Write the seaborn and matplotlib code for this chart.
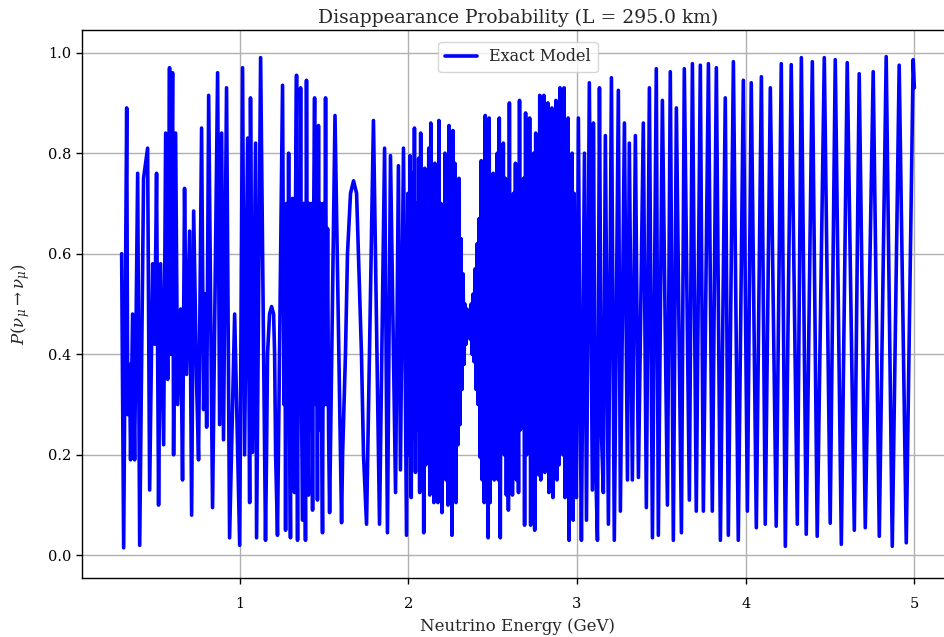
import matplotlib
matplotlib.use("Agg")
import matplotlib.pyplot as plt
import seaborn as sns
import pandas as pd

# ---- values (energy in GeV, survival probability) ----
# low-energy part, 0.30 - 1.26 GeV
energy_low = [
    0.300, 0.312, 0.330, 0.336, 0.347, 0.353, 0.365, 0.377, 0.395, 0.407,
    0.430, 0.454, 0.466, 0.484, 0.496, 0.507, 0.519, 0.531, 0.549, 0.561,
    0.573, 0.584, 0.590, 0.602, 0.608, 0.620, 0.632, 0.650, 0.661, 0.673,
    0.685, 0.703, 0.715, 0.727, 0.744, 0.756, 0.774, 0.786, 0.798, 0.804,
    0.816, 0.839, 0.869, 0.881, 0.893, 0.904, 0.922, 0.940, 0.970, 1.000,
    1.017, 1.029, 1.047, 1.059, 1.064, 1.076, 1.094, 1.100, 1.124, 1.153,
    1.159, 1.165, 1.177, 1.189, 1.201, 1.207, 1.213, 1.224, 1.254,
]
prob_low = [
    0.600, 0.015, 0.890, 0.280, 0.380, 0.190, 0.480, 0.190, 0.760, 0.020,
    0.750, 0.810, 0.130, 0.580, 0.420, 0.760, 0.100, 0.580, 0.220, 0.840,
    0.350, 0.970, 0.400, 0.960, 0.200, 0.840, 0.300, 0.490, 0.150, 0.730,
    0.360, 0.645, 0.080, 0.685, 0.350, 0.190, 0.850, 0.290, 0.520, 0.255,
    0.915, 0.095, 0.960, 0.260, 0.840, 0.230, 0.930, 0.035, 0.480, 0.020,
    0.970, 0.200, 0.830, 0.105, 0.910, 0.205, 0.820, 0.035, 0.990, 0.030,
    0.200, 0.400, 0.480, 0.495, 0.480, 0.400, 0.200, 0.040, 0.935,
]

# fast band, 1.26 - 1.99 GeV
energy_mid = [
    1.263, 1.268, 1.272, 1.278, 1.284, 1.290, 1.295, 1.301, 1.307, 1.313,
    1.319, 1.325, 1.331, 1.337, 1.340, 1.343, 1.349, 1.355, 1.361, 1.367,
    1.373, 1.379, 1.384, 1.387, 1.390, 1.396, 1.402, 1.408, 1.411, 1.414,
    1.420, 1.426, 1.432, 1.438, 1.444, 1.450, 1.455, 1.461, 1.467, 1.473,
    1.479, 1.485, 1.491, 1.497, 1.503, 1.509, 1.515, 1.521, 1.527, 1.533,
    1.565, 1.604, 1.610, 1.627, 1.639, 1.657, 1.675, 1.693, 1.704, 1.722,
    1.734, 1.752, 1.793, 1.829, 1.859, 1.876, 1.894, 1.924, 1.941, 1.953,
    1.971,
]
prob_mid = [
    0.300, 0.650, 0.050, 0.700, 0.250, 0.800, 0.300, 0.035, 0.680, 0.710,
    0.300, 0.125, 0.700, 0.955, 0.250, 0.030, 0.650, 0.300, 0.930, 0.280,
    0.070, 0.700, 0.600, 0.250, 0.030, 0.945, 0.300, 0.120, 0.700, 0.675,
    0.250, 0.700, 0.090, 0.650, 0.910, 0.300, 0.650, 0.110, 0.855, 0.250,
    0.700, 0.300, 0.045, 0.700, 0.300, 0.910, 0.300, 0.650, 0.250, 0.085,
    0.875, 0.065, 0.200, 0.400, 0.600, 0.720, 0.745, 0.720, 0.600, 0.400,
    0.200, 0.062, 0.865, 0.062, 0.810, 0.045, 0.795, 0.125, 0.775, 0.170,
    0.810,
]

# dense beating part, 1.99 - 2.99 GeV
energy_dense = [
    1.989, 1.997, 2.004, 2.010, 2.017, 2.024, 2.030, 2.036, 2.042, 2.049,
    2.055, 2.061, 2.067, 2.073, 2.079, 2.085, 2.091, 2.097, 2.103, 2.109,
    2.115, 2.121, 2.127, 2.133, 2.139, 2.145, 2.151, 2.157, 2.163, 2.169,
    2.175, 2.181, 2.187, 2.193, 2.199, 2.205, 2.211, 2.217, 2.223, 2.229,
    2.235, 2.241, 2.247, 2.253, 2.258, 2.264, 2.270, 2.276, 2.282, 2.288,
    2.294, 2.300, 2.306, 2.312, 2.318, 2.324, 2.330, 2.336, 2.342, 2.348,
    2.354, 2.360, 2.366, 2.372, 2.378, 2.384, 2.390, 2.396, 2.402, 2.408,
    2.414, 2.420, 2.426, 2.432, 2.438, 2.444, 2.450, 2.456, 2.462, 2.468,
    2.473, 2.479, 2.485, 2.491, 2.497, 2.503, 2.509, 2.515, 2.521, 2.527,
    2.533, 2.539, 2.545, 2.551, 2.557, 2.563, 2.569, 2.575, 2.581, 2.587,
    2.593, 2.599, 2.605, 2.611, 2.617, 2.623, 2.629, 2.635, 2.641, 2.647,
    2.653, 2.659, 2.665, 2.671, 2.677, 2.683, 2.689, 2.695, 2.701, 2.707,
    2.713, 2.719, 2.725, 2.731, 2.737, 2.743, 2.749, 2.755, 2.761, 2.767,
    2.773, 2.779, 2.785, 2.791, 2.797, 2.803, 2.809, 2.815, 2.821, 2.827,
    2.833, 2.839, 2.845, 2.851, 2.857, 2.863, 2.869, 2.875, 2.881, 2.887,
    2.893, 2.899, 2.905, 2.911, 2.917, 2.923, 2.929, 2.935, 2.941, 2.947,
    2.953, 2.959, 2.965, 2.971, 2.977, 2.983, 2.989,
]
prob_dense = [
    0.040, 0.720, 0.200, 0.795, 0.115, 0.760, 0.230, 0.850, 0.165, 0.700,
    0.250, 0.790, 0.125, 0.840, 0.220, 0.740, 0.045, 0.770, 0.180, 0.680,
    0.300, 0.810, 0.120, 0.860, 0.200, 0.660, 0.105, 0.780, 0.250, 0.740,
    0.105, 0.865, 0.180, 0.700, 0.085, 0.620, 0.220, 0.800, 0.150, 0.760,
    0.100, 0.855, 0.200, 0.700, 0.040, 0.845, 0.160, 0.780, 0.105, 0.720,
    0.220, 0.750, 0.260, 0.630, 0.330, 0.560, 0.380, 0.500, 0.420, 0.490,
    0.440, 0.480, 0.430, 0.500, 0.400, 0.520, 0.385, 0.570, 0.330, 0.620,
    0.300, 0.670, 0.195, 0.785, 0.150, 0.700, 0.105, 0.875, 0.200, 0.720,
    0.035, 0.870, 0.105, 0.620, 0.250, 0.760, 0.150, 0.700, 0.220, 0.800,
    0.150, 0.870, 0.035, 0.760, 0.250, 0.820, 0.200, 0.750, 0.120, 0.700,
    0.090, 0.900, 0.250, 0.650, 0.120, 0.720, 0.200, 0.780, 0.150, 0.680,
    0.125, 0.905, 0.250, 0.620, 0.300, 0.750, 0.060, 0.880, 0.200, 0.750,
    0.250, 0.870, 0.060, 0.700, 0.250, 0.800, 0.050, 0.840, 0.300, 0.720,
    0.160, 0.915, 0.150, 0.700, 0.220, 0.915, 0.165, 0.720, 0.200, 0.900,
    0.125, 0.750, 0.230, 0.890, 0.115, 0.700, 0.250, 0.905, 0.150, 0.720,
    0.180, 0.930, 0.230, 0.800, 0.200, 0.930, 0.115, 0.760, 0.250, 0.870,
    0.030, 0.780, 0.250, 0.800, 0.070, 0.720, 0.230,
]

# high-energy part, 3.00 - 5.00 GeV
energy_high = [
    2.996, 3.008, 3.020, 3.026, 3.044, 3.056, 3.073, 3.091, 3.097, 3.109,
    3.121, 3.133, 3.144, 3.156, 3.168, 3.186, 3.204, 3.221, 3.245, 3.257,
    3.281, 3.299, 3.310, 3.328, 3.346, 3.364, 3.393, 3.411, 3.429, 3.447,
    3.470, 3.482, 3.506, 3.536, 3.553, 3.571, 3.589, 3.619, 3.636, 3.666,
    3.684, 3.707, 3.731, 3.749, 3.779, 3.802, 3.826, 3.850, 3.879, 3.897,
    3.927, 3.956, 3.986, 4.010, 4.033, 4.063, 4.093, 4.116, 4.146, 4.181,
    4.211, 4.235, 4.270, 4.306, 4.330, 4.359, 4.395, 4.424, 4.466, 4.501,
    4.531, 4.567, 4.602, 4.644, 4.673, 4.709, 4.756, 4.792, 4.833, 4.869,
    4.910, 4.952, 4.993, 5.000,
]
prob_high = [
    0.115, 0.870, 0.250, 0.030, 0.800, 0.070, 0.940, 0.130, 0.860, 0.200,
    0.030, 0.930, 0.250, 0.125, 0.835, 0.062, 0.950, 0.030, 0.925, 0.088,
    0.860, 0.150, 0.820, 0.150, 0.835, 0.155, 0.860, 0.095, 0.930, 0.035,
    0.968, 0.040, 0.905, 0.100, 0.962, 0.030, 0.890, 0.045, 0.968, 0.110,
    0.978, 0.088, 0.975, 0.088, 0.978, 0.088, 0.970, 0.030, 0.910, 0.040,
    0.982, 0.030, 0.945, 0.088, 0.940, 0.055, 0.952, 0.062, 0.930, 0.058,
    0.978, 0.018, 0.976, 0.062, 0.990, 0.042, 0.982, 0.038, 0.990, 0.064,
    0.986, 0.022, 0.980, 0.050, 0.958, 0.055, 0.962, 0.038, 0.992, 0.018,
    0.975, 0.025, 0.986, 0.930,
]

series_label = "Exact Model"
title_text = "Disappearance Probability (L = 295.0 km)"
x_label = "Neutrino Energy (GeV)"
y_label = r"$P(\nu_\mu \rightarrow \nu_\mu)$"
x_ticks = [1, 2, 3, 4, 5]
y_ticks = [0.0, 0.2, 0.4, 0.6, 0.8, 1.0]

sns.set_theme(style="ticks")
plt.rcParams["font.family"] = ["DejaVu Serif"]
plt.rcParams["mathtext.fontset"] = "dejavuserif"

energy = energy_low + energy_mid + energy_dense + energy_high
prob = prob_low + prob_mid + prob_dense + prob_high
df = pd.DataFrame({"energy": energy, "prob": prob})

fig = plt.figure(figsize=(9.44, 6.37), dpi=100)
ax = fig.add_axes([82 / 944, 59 / 637, 872 / 944, 548 / 637])

sns.lineplot(data=df, x="energy", y="prob", ax=ax, color="#0000ff",
             linewidth=2.6, label=series_label, sort=False, estimator=None)
for ln in ax.get_lines():
    ln.set_solid_joinstyle("round")

ax.set_xlim(0.065, 5.235)
ax.set_ylim(-0.045, 1.045)
ax.set_xticks(x_ticks)
ax.set_yticks(y_ticks)
ax.set_xticklabels([str(t) for t in x_ticks], fontsize=10.5)
ax.set_yticklabels([f"{t:.1f}" for t in y_ticks], fontsize=10.5)
ax.grid(True, color="#b0b0b0", linewidth=1.0)
ax.set_axisbelow(True)
for s in ax.spines.values():
    s.set_color("black")
    s.set_linewidth(1.0)
ax.tick_params(direction="out", length=4, width=1, colors="black")
ax.tick_params(axis="x", pad=10)

ax.set_title(title_text, fontsize=13.5, pad=5)
ax.set_xlabel(x_label, fontsize=12, labelpad=5)
ax.set_ylabel(y_label, fontsize=12, labelpad=12)

leg = ax.legend(loc="upper center", fontsize=11.5, frameon=True,
                fancybox=True, framealpha=0.8, edgecolor="#cccccc",
                borderaxespad=0.75)

fig.savefig("out.png", dpi=100)
